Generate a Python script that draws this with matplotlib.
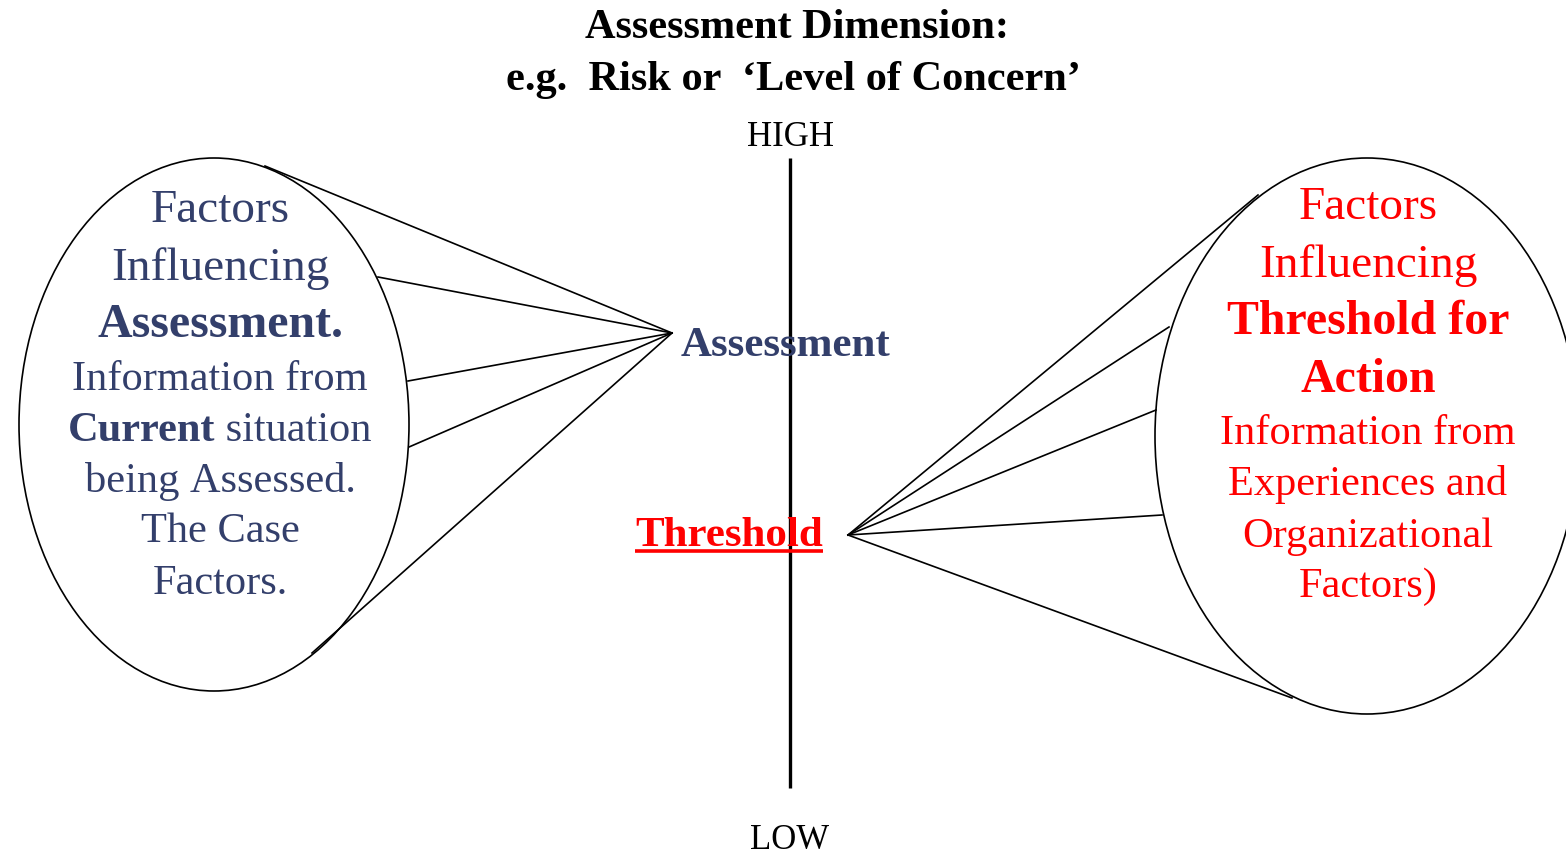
import matplotlib
matplotlib.use("Agg")
import matplotlib.pyplot as plt
from matplotlib.patches import Ellipse

# ---- content ----
title_lines = ["Assessment Dimension:", "e.g.  Risk or  \u2018Level of Concern\u2019"]
axis_high = "HIGH"
axis_low = "LOW"
assess_label = "Assessment"
threshold_label = "Threshold"

# (text, bold) segments per line
left_lines = [
    [("Factors", False)],
    [("Influencing", False)],
    [("Assessment.", True)],
    [("Information from", False)],
    [("Current", True), (" situation", False)],
    [("being Assessed.", False)],
    [("The Case", False)],
    [("Factors.", False)],
]
left_sizes = [34, 34, 34.5, 30.5, 30.5, 30.5, 30.5, 30.5]
left_baselines = [222, 280, 337, 390, 441, 492, 542, 594]

right_lines = [
    [("Factors", False)],
    [("Influencing", False)],
    [("Threshold for", True)],
    [("Action", True)],
    [("Information from", False)],
    [("Experiences and", False)],
    [("Organizational", False)],
    [("Factors)", False)],
]
right_sizes = [34, 34, 34.5, 34.5, 30.5, 30.5, 30.5, 30.5]
right_baselines = [219, 277, 334, 392, 444, 495, 547, 597]

NAVY = "#333f6b"
RED = "#ff0000"
FONT = ["Liberation Serif", "DejaVu Serif"]

W, H = 1566, 856
fig = plt.figure(figsize=(W / 100, H / 100), dpi=100)
ax = fig.add_axes([0, 0, 1, 1])
ax.set_xlim(0, W)
ax.set_ylim(H, 0)
ax.axis("off")

# ellipses
ax.add_patch(Ellipse((214, 424.5), 390, 533, fill=False, lw=1.2, ec="black"))
ax.add_patch(Ellipse((1367, 436), 424, 556, fill=False, lw=1.2, ec="black"))

# fan lines
left_apex = (672, 333)
left_ends = [(265, 166), (378, 277), (408, 381), (409, 447), (312, 653)]
for ex, ey in left_ends:
    ax.plot([left_apex[0], ex], [left_apex[1], ey], color="black", lw=1.2)
right_apex = (848, 535)
right_ends = [(1258, 195), (1169, 327), (1156, 410), (1162, 515), (1292, 698)]
for ex, ey in right_ends:
    ax.plot([right_apex[0], ex], [right_apex[1], ey], color="black", lw=1.2)

# vertical axis
ax.plot([790, 790], [158, 788], color="black", lw=2.4, solid_capstyle="butt")

# titles
ax.text(797, 38, title_lines[0], ha="center", va="baseline", fontsize=30.5,
        fontweight="bold", family=FONT)
ax.text(793, 90, title_lines[1], ha="center", va="baseline", fontsize=30.5,
        fontweight="bold", family=FONT)
ax.text(790, 146, axis_high, ha="center", va="baseline", fontsize=25, family=FONT)
ax.text(790, 849, axis_low, ha="center", va="baseline", fontsize=25, family=FONT)

# labels
ax.text(681, 356, assess_label, ha="left", va="baseline", fontsize=31,
        fontweight="bold", color=NAVY, family=FONT)
t = ax.text(635, 546, threshold_label, ha="left", va="baseline", fontsize=31,
            fontweight="bold", color=RED, family=FONT)

fig.canvas.draw()
renderer = fig.canvas.get_renderer()
inv = ax.transData.inverted()


def width_data(txt):
    bb = txt.get_window_extent(renderer)
    (x0, _), (x1, _) = inv.transform([(bb.x0, bb.y0), (bb.x1, bb.y1)])
    return x0, x1


x0, x1 = width_data(t)
ax.plot([x0, x1], [550.5, 550.5], color=RED, lw=2.6, solid_capstyle="butt")


def draw_block(lines, sizes, baselines, cx, color):
    for segs, fs, yb in zip(lines, sizes, baselines):
        tmp = []
        total = 0
        for s, b in segs:
            tt = ax.text(0, yb, s.replace(" ", "\u00a0"), fontsize=fs,
                         fontweight="bold" if b else "normal",
                         family=FONT, color=color, ha="left", va="baseline")
            a, bx = width_data(tt)
            tmp.append((tt, bx - a))
            total += bx - a
        x = cx - total / 2
        for tt, w in tmp:
            tt.set_x(x)
            x += w


draw_block(left_lines, left_sizes, left_baselines, 220, NAVY)
draw_block(right_lines, right_sizes, right_baselines, 1368, RED)

fig.savefig("out.png", dpi=100)
